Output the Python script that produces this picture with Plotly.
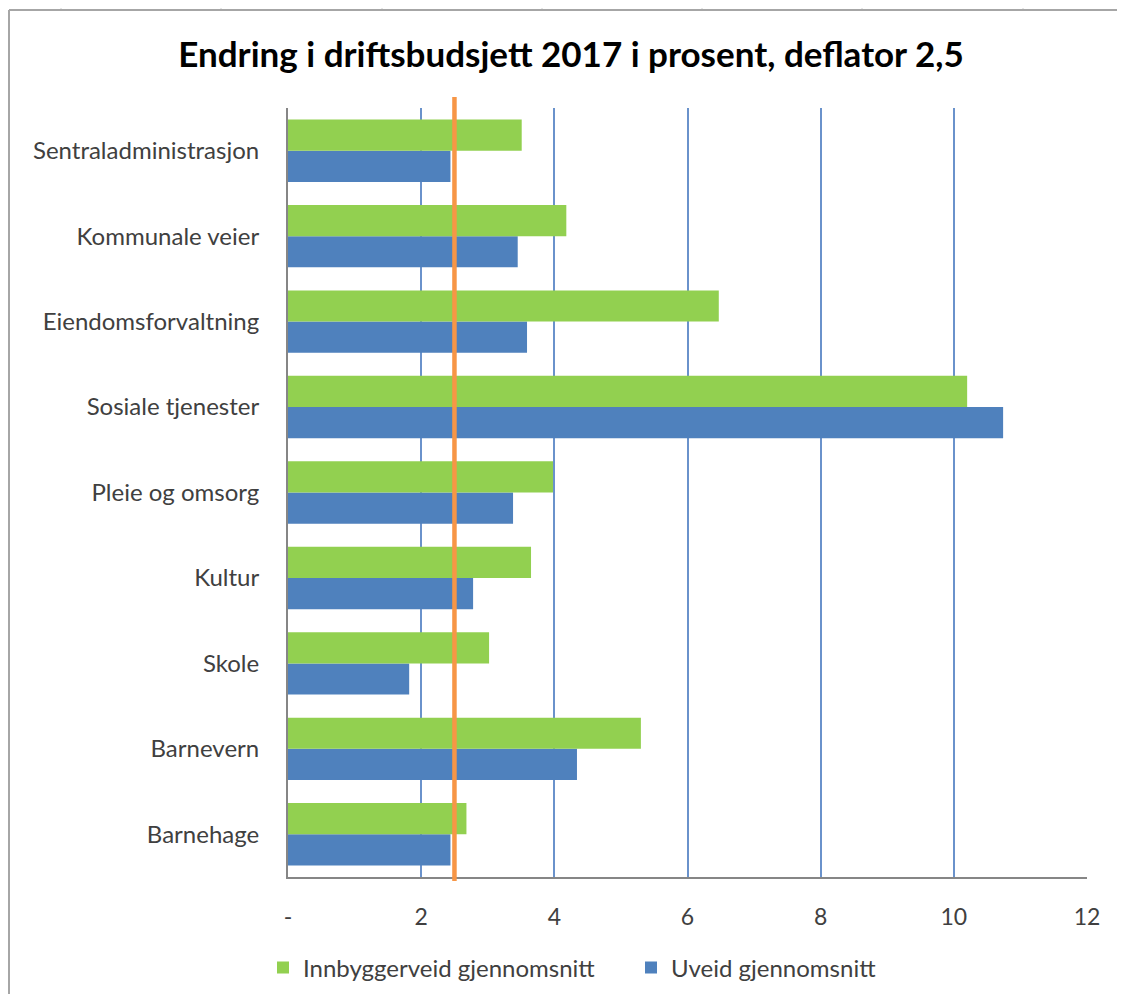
import plotly.graph_objects as go

categories = ["Barnehage", "Barnevern", "Skole", "Kultur", "Pleie og omsorg",
              "Sosiale tjenester", "Eiendomsforvaltning", "Kommunale veier",
              "Sentraladministrasjon"]
innbyggerveid = [2.68, 5.30, 3.02, 3.65, 3.98, 10.20, 6.47, 4.18, 3.51]
uveid = [2.44, 4.34, 1.82, 2.78, 3.38, 10.74, 3.59, 3.45, 2.44]
deflator = 2.5
tick_vals = [0, 2, 4, 6, 8, 10, 12]
tick_text = ["-", "2", "4", "6", "8", "10", "12"]

OFF = 8  # browser body margin
W, H = 1125 - OFF, 1002 - 2 * OFF
L, R, T, B = 288 - OFF, 1087 - OFF, 108 - OFF, 877 - OFF

def px_x(x):
    return (x - OFF - L) / (R - L)

def px_y(y):
    return (B - (y - OFF)) / (B - T)

fig = go.Figure()
fig.add_trace(go.Bar(y=categories, x=uveid, orientation="h", name="Uveid gjennomsnitt",
                     marker=dict(color="#4F81BD", line=dict(width=0)), legendrank=2))
fig.add_trace(go.Bar(y=categories, x=innbyggerveid, orientation="h", name="Innbyggerveid gjennomsnitt",
                     marker=dict(color="#92D050", line=dict(width=0)), legendrank=1))

shapes = []
shapes.append(dict(type="line", xref="x", yref="paper", x0=deflator, x1=deflator,
                   y0=px_y(881), y1=px_y(97), line=dict(color="#F79646", width=4.5), layer="above"))
shapes.append(dict(type="line", xref="paper", yref="paper", x0=px_x(9), x1=px_x(1125),
                   y0=px_y(10), y1=px_y(10), line=dict(color="#A6A6A6", width=2)))
shapes.append(dict(type="line", xref="paper", yref="paper", x0=px_x(9), x1=px_x(9),
                   y0=px_y(10), y1=px_y(1002), line=dict(color="#A6A6A6", width=2)))
for cx in [61, 221, 382, 542, 702, 862, 1023]:
    shapes.append(dict(type="line", xref="paper", yref="paper", x0=px_x(cx), x1=px_x(cx),
                       y0=px_y(9), y1=px_y(OFF), line=dict(color="#D0D0D0", width=1)))

fig.update_layout(
    width=W, height=H,
    margin=dict(l=L, r=W - R, t=T, b=H - B, pad=0),
    paper_bgcolor="white", plot_bgcolor="white",
    barmode="group", bargap=0.27, bargroupgap=0,
    font=dict(family="Lato, 'Open Sans', sans-serif", size=24, color="#404040"),
    title=dict(text="<b>Endring i driftsbudsjett 2017 i prosent, deflator 2,5</b>",
               x=(571 - OFF) / W, xref="container", xanchor="center",
               y=1 - (55 - OFF) / H, yref="container", yanchor="middle",
               font=dict(size=35, color="#000000")),
    xaxis=dict(range=[0, 12], tickvals=tick_vals, ticktext=tick_text,
               showgrid=True, gridcolor="#6A92CB", gridwidth=1.5,
               showline=True, linecolor="#868686", linewidth=2, mirror=False,
               zeroline=False, ticks="", ticklabelstandoff=18,
               tickfont=dict(size=23, color="#404040")),
    yaxis=dict(categoryorder="array", categoryarray=categories,
               showline=True, linecolor="#868686", linewidth=2,
               showgrid=False, ticks="", ticklabelstandoff=22,
               tickfont=dict(size=24, color="#404040")),
    legend=dict(orientation="h", x=(275 - OFF - 12) / W, xref="container", xanchor="left",
                y=1 - (968 - OFF) / H, yref="container", yanchor="middle",
                font=dict(size=24, color="#404040"), itemwidth=30,
                entrywidth=323, entrywidthmode="pixels",
                traceorder="normal"),
    shapes=shapes,
    showlegend=True,
)

fig.write_html("out.html", config={"displayModeBar": False})
